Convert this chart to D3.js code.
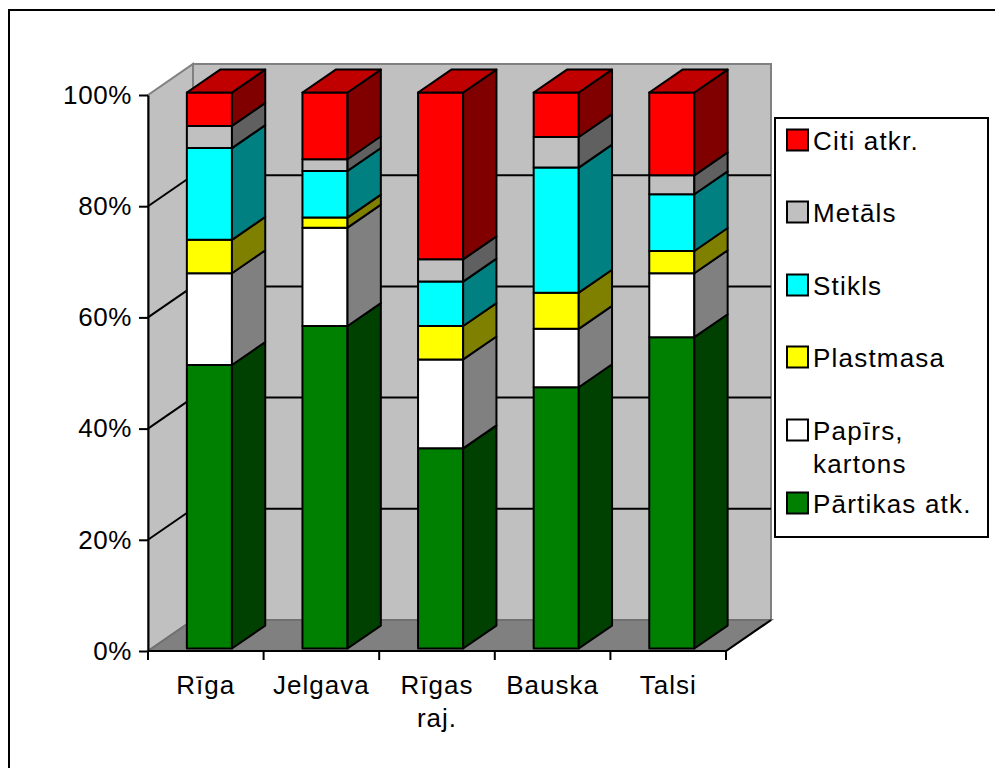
<!DOCTYPE html>
<html>
<head>
<meta charset="utf-8">
<script src="https://cdn.jsdelivr.net/npm/d3@7"></script>
<style>
  html, body { margin: 0; padding: 0; background: #fff; }
  svg { display: block; }
  text { font-family: "Liberation Sans", Arial, sans-serif; }
</style>
</head>
<body>
<svg id="chart" width="995" height="768"></svg>
<script>
// Waste composition by city (shares of total, %)
const categories = ["Rīga", "Jelgava", "Rīgas raj.", "Bauska", "Talsi"];
const categoryLines = [["Rīga"], ["Jelgava"], ["Rīgas", "raj."], ["Bauska"], ["Talsi"]];

// series, stacked from the bottom up
const seriesNames = ["Pārtikas atk.", "Papīrs, kartons", "Plastmasa", "Stikls", "Metāls", "Citi atkr."];
const partikas  = [51, 58, 36, 47, 56];
const papirs    = [16.5, 17.7, 16, 10.5, 11.5];
const plastmasa = [6, 1.8, 6, 6.5, 4];
const stikls    = [16.5, 8.4, 8, 22.5, 10.2];
const metals    = [4, 2.1, 4, 5.5, 3.4];
const citi      = [6, 12, 30, 8, 14.9];

const yTicks = [0, 0.2, 0.4, 0.6, 0.8, 1];

// face colours: front, side (shaded), top
const frontColors = ["#008000", "#ffffff", "#ffff00", "#00ffff", "#c0c0c0", "#ff0000"];
const sideColors  = ["#004000", "#808080", "#808000", "#008080", "#606060", "#800000"];
const topColors   = ["#006000", "#c0c0c0", "#c0c000", "#00c0c0", "#909090", "#c00000"];

// legend lines (top to bottom, reverse of stack order)
const legendLines = [["Citi atkr."], ["Metāls"], ["Stikls"], ["Plastmasa"], ["Papīrs,", "kartons"], ["Pārtikas atk."]];

const seriesValues = [partikas, papirs, plastmasa, stikls, metals, citi];
const rows = categories.map((c, i) => {
  const r = { cat: c };
  seriesNames.forEach((s, k) => r[s] = seriesValues[k][i]);
  return r;
});
const stacked = d3.stack().keys(seriesNames).offset(d3.stackOffsetExpand)(rows);

const svg = d3.select("#chart");
const FONT = 26;

// plot geometry (front plane) and depth vector
const plotLeft = 148, plotRight = 726, plotBase = 651, plotTop = 95;
const DX = 45, DY = -31;
const z0 = 0.08, z1 = 0.82;

const x = d3.scaleBand().domain(categories).range([plotLeft, plotRight]).padding(0);
const y = d3.scaleLinear().domain([0, 1]).range([plotBase, plotTop]);
const barW = x.bandwidth() * 0.39;

const P = (px, py, z) => [px + z * DX, py + z * DY];
const poly = pts => "M" + pts.map(p => p.join(",")).join("L") + "Z";

// outer chart frame (left and top edges)
svg.append("path")
  .attr("d", "M9,768 L9,10 L995,10")
  .attr("fill", "none").attr("stroke", "#000").attr("stroke-width", 2);

// walls and floor
const g = svg.append("g");
g.append("path")
  .attr("d", poly([P(plotLeft, plotTop, 1), P(plotRight, plotTop, 1), P(plotRight, plotBase, 1), P(plotLeft, plotBase, 1)]))
  .attr("fill", "#c0c0c0").attr("stroke", "#808080").attr("stroke-width", 2);
g.append("path")
  .attr("d", poly([P(plotLeft, plotTop, 0), P(plotLeft, plotTop, 1), P(plotLeft, plotBase, 1), P(plotLeft, plotBase, 0)]))
  .attr("fill", "#c0c0c0").attr("stroke", "#808080").attr("stroke-width", 2);
g.append("path")
  .attr("d", poly([P(plotLeft, plotBase, 0), P(plotLeft, plotBase, 1), P(plotRight, plotBase, 1), P(plotRight, plotBase, 0)]))
  .attr("fill", "#808080").attr("stroke", "#707070").attr("stroke-width", 2);
// floor right edge
g.append("line")
  .attr("x1", P(plotRight, plotBase, 0)[0]).attr("y1", P(plotRight, plotBase, 0)[1])
  .attr("x2", P(plotRight, plotBase, 1)[0]).attr("y2", P(plotRight, plotBase, 1)[1])
  .attr("stroke", "#000").attr("stroke-width", 2);

// gridlines on the back and side walls
const inner = yTicks.filter(t => t > 0 && t < 1);
g.selectAll("line.grid-back").data(inner).join("line")
  .attr("class", "grid-back")
  .attr("x1", P(plotLeft, 0, 1)[0]).attr("x2", P(plotRight, 0, 1)[0])
  .attr("y1", d => P(0, y(d), 1)[1]).attr("y2", d => P(0, y(d), 1)[1])
  .attr("stroke", "#000").attr("stroke-width", 2);
g.selectAll("line.grid-side").data(inner).join("line")
  .attr("class", "grid-side")
  .attr("x1", plotLeft).attr("y1", d => y(d))
  .attr("x2", P(plotLeft, 0, 1)[0]).attr("y2", d => P(0, y(d), 1)[1])
  .attr("stroke", "#000").attr("stroke-width", 2);

// bars
const bars = svg.append("g").attr("stroke", "#000").attr("stroke-width", 2).attr("stroke-linejoin", "round");
categories.forEach((c, i) => {
  const xl = x(c) + (x.bandwidth() - barW) / 2;
  const xr = xl + barW;
  stacked.forEach((layer, k) => {
    const [v0, v1] = layer[i];
    const yb = y(v0), yt = y(v1);
    bars.append("path")
      .attr("d", poly([P(xl, yt, z0), P(xr, yt, z0), P(xr, yb, z0), P(xl, yb, z0)]))
      .attr("fill", frontColors[k]);
    bars.append("path")
      .attr("d", poly([P(xr, yt, z0), P(xr, yt, z1), P(xr, yb, z1), P(xr, yb, z0)]))
      .attr("fill", sideColors[k]);
    if (k === stacked.length - 1) {
      bars.append("path")
        .attr("d", poly([P(xl, yt, z0), P(xl, yt, z1), P(xr, yt, z1), P(xr, yt, z0)]))
        .attr("fill", topColors[k]);
    }
  });
});

// value axis
const yAxis = svg.append("g")
  .attr("transform", `translate(${plotLeft},0)`)
  .call(d3.axisLeft(y).tickValues(yTicks).tickFormat(d3.format(".0%"))
    .tickSize(9).tickSizeOuter(0).tickPadding(7));
yAxis.select(".domain").attr("stroke", "#000").attr("stroke-width", 2);
yAxis.selectAll(".tick line").attr("stroke", "#000").attr("stroke-width", 2);
yAxis.selectAll(".tick text")
  .attr("font-size", FONT).attr("fill", "#000")
  .attr("font-family", "'Liberation Sans', Arial, sans-serif")
  .style("letter-spacing", "0.6px");

// category axis: line, boundary ticks, labels
const xa = svg.append("g");
xa.append("line")
  .attr("x1", plotLeft).attr("x2", plotRight).attr("y1", plotBase).attr("y2", plotBase)
  .attr("stroke", "#000").attr("stroke-width", 2);
const bounds = categories.map(c => x(c)).concat([x(categories[categories.length - 1]) + x.bandwidth()]);
xa.selectAll("line.tk").data(bounds).join("line")
  .attr("class", "tk")
  .attr("x1", d => d).attr("x2", d => d).attr("y1", plotBase).attr("y2", plotBase + 9)
  .attr("stroke", "#000").attr("stroke-width", 2);
const labels = xa.selectAll("text.cat").data(categories).join("text")
  .attr("class", "cat")
  .attr("text-anchor", "middle")
  .attr("font-size", FONT)
  .style("letter-spacing", "1px")
  .attr("x", d => x(d) + x.bandwidth() / 2)
  .attr("y", 694);
labels.selectAll("tspan").data((d, i) => categoryLines[i]).join("tspan")
  .attr("x", function () { return d3.select(this.parentNode).attr("x"); })
  .attr("dy", (d, j) => j === 0 ? 0 : 33)
  .text(d => d);

// legend
const lg = svg.append("g");
lg.append("rect")
  .attr("x", 775).attr("y", 118).attr("width", 213).attr("height", 419)
  .attr("fill", "#fff").attr("stroke", "#000").attr("stroke-width", 2);
const legendY = [140, 212, 285, 357, 430, 503];
legendLines.forEach((lines, j) => {
  const k = seriesNames.length - 1 - j;
  lg.append("rect")
    .attr("x", 787).attr("y", legendY[j] - 10.5).attr("width", 21).attr("height", 21)
    .attr("fill", frontColors[k]).attr("stroke", "#000").attr("stroke-width", 2);
  const t = lg.append("text")
    .attr("x", 813).attr("y", legendY[j] + 9.5)
    .attr("font-size", FONT).style("letter-spacing", "1.2px");
  lines.forEach((ln, m) => {
    t.append("tspan").attr("x", 813).attr("dy", m === 0 ? 0 : 33).text(ln);
  });
});
</script>
</body>
</html>
